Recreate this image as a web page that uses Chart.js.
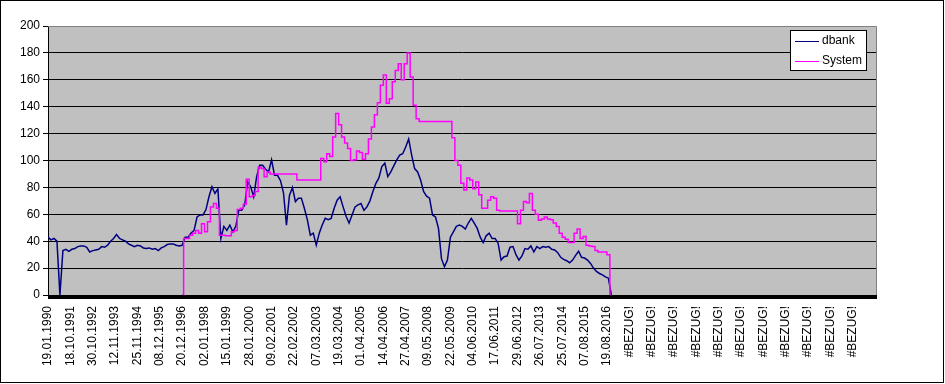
<!DOCTYPE html>
<html>
<head>
<meta charset="utf-8">
<script src="https://cdn.jsdelivr.net/npm/chart.js@4.4.0/dist/chart.umd.min.js"></script>
<style>
  html, body { margin: 0; padding: 0; background: #fff; }
  canvas { display: block; }
</style>
</head>
<body>
<canvas id="chart" width="945" height="384"></canvas>
<script>
// x axis: one label every 270 rows, 10000 rows in the sheet range
const tickLabels = [
    '19.01.1990', '18.10.1991', '30.10.1992', '12.11.1993', '25.11.1994', '08.12.1995',
    '20.12.1996', '02.01.1998', '15.01.1999', '28.01.2000', '09.02.2001', '22.02.2002',
    '07.03.2003', '19.03.2004', '01.04.2005', '14.04.2006', '27.04.2007', '09.05.2008',
    '22.05.2009', '04.06.2010', '17.06.2011', '29.06.2012', '26.07.2013', '25.07.2014',
    '07.08.2015', '19.08.2016',
    '#BEZUG!', '#BEZUG!', '#BEZUG!', '#BEZUG!', '#BEZUG!', '#BEZUG!',
    '#BEZUG!', '#BEZUG!', '#BEZUG!', '#BEZUG!', '#BEZUG!'
];
const LABEL_EVERY = 270;
const ROW_COUNT = 10000;

// both series, one value every 36 rows
const SAMPLE_STEP = 36;

const dbankValues = [
    43, 41, 42, 40, 0, 33, 34, 32.5, 34, 34.5,
    36, 36.5, 36.5, 35.5, 32, 33, 33.5, 34, 36, 35.5,
    37, 40, 42, 45, 42, 41, 40, 38, 37, 36,
    37, 36.5, 35, 34.5, 35, 34, 34.5, 33, 35, 36,
    37.5, 38, 38, 37, 36.5, 37, 43, 43, 46, 48,
    58, 59.5, 59.5, 63.5, 73, 80.5, 75.5, 79, 42, 51,
    48, 52, 47, 51, 63, 63, 67, 84, 80.5, 73,
    88, 96.5, 96.5, 93.5, 91.5, 100.5, 89, 89, 85, 76,
    52, 74, 80, 69.5, 72, 72, 64.5, 56, 44.5, 46,
    37, 46, 52, 57, 56, 57, 64.5, 70.5, 73, 65.5,
    58.5, 53.5, 59.5, 65.5, 67, 68, 63, 65.5, 70, 77,
    83, 87, 95.5, 98, 88, 91.5, 96, 100.5, 104, 105,
    110, 116, 104, 94, 91.5, 85.5, 77, 73.5, 72, 59.5,
    58, 49.5, 27, 21, 26, 43, 47, 51, 52, 51,
    49, 53.5, 57, 53.5, 49.5, 43, 39, 44, 46, 42,
    42, 38.5, 26, 28.5, 29, 35.5, 36, 30, 26, 29,
    34.5, 34, 36.5, 32, 36, 34.5, 36, 35.5, 36, 34,
    33.5, 31.5, 28, 26.5, 25.5, 24, 26, 29.5, 32.5, 28,
    27.5, 26, 23.5, 20, 17.5, 16, 15, 13.5, 12.5, 0
];

// System starts at sample 45 (Dec 1996)
const systemStart = 45;
const systemValues = [
    0, 42, 42, 44.5, 46,
    48, 46, 53, 47, 54.5, 65.5, 68, 64.5, 44.5, 44.5,
    44, 44, 47, 48, 63.5, 64.5, 67.5, 86, 73, 74,
    77, 95, 94, 88, 91.5, 90, 90, 90, 90, 90,
    90, 90, 90, 90, 85.5, 85.5, 85.5, 85.5, 85.5, 85.5,
    85.5, 85.5, 101.5, 99, 105, 103, 117.5, 135, 126.5, 117.5,
    113, 109, 100, 100.5, 107, 106, 101, 105, 116, 125,
    134, 143, 156, 163.5, 142.5, 146, 158.5, 167, 172, 160,
    172, 180, 162, 141, 131, 129, 129, 129, 129, 129,
    129, 129, 129, 129, 129, 129, 117, 100, 96.5, 83,
    78, 87, 85.5, 79, 84, 74.5, 64.5, 64.5, 70.5, 73,
    72, 63, 62.5, 62.5, 62.5, 62.5, 62.5, 62.5, 53, 63,
    69.5, 68.5, 75.5, 63, 60, 55.5, 56.5, 58, 56.5, 56,
    53.5, 51, 46, 43, 41.5, 39, 39, 46, 49, 42,
    43.5, 37, 36.5, 36, 33, 32, 32, 32, 30, 0
];

const FONT = { family: '"Liberation Sans", Arial, sans-serif', size: 12 };

// grey plot area, its frame, the thick category axis and the outer border
const plotFrame = {
    id: 'plotFrame',
    beforeDraw(chart) {
        const { ctx, chartArea: a } = chart;
        ctx.save();
        ctx.fillStyle = '#c0c0c0';
        ctx.fillRect(a.left, a.top, a.right - a.left, a.bottom - a.top);
        ctx.restore();
    },
    afterDraw(chart) {
        const { ctx, chartArea: a } = chart;
        ctx.save();
        ctx.strokeStyle = '#808080';
        ctx.lineWidth = 1;
        ctx.beginPath();
        ctx.moveTo(a.left, a.top + 0.5);
        ctx.lineTo(a.right + 0.5, a.top + 0.5);
        ctx.lineTo(a.right + 0.5, a.bottom);
        ctx.stroke();

        ctx.fillStyle = '#000';
        ctx.fillRect(a.left, a.bottom, a.right - a.left + 1, 4);

        ctx.strokeStyle = '#000';
        ctx.strokeRect(0.5, 0.5, chart.width - 2, chart.height - 2);
        ctx.restore();
    }
};

// Excel style legend box inside the plot, top right
const boxLegend = {
    id: 'boxLegend',
    afterDraw(chart) {
        const { ctx, chartArea: a } = chart;
        const x = a.right - 86, y = a.top + 4, w = 76, h = 40;
        ctx.save();
        ctx.fillStyle = '#fff';
        ctx.fillRect(x, y, w, h);
        ctx.strokeStyle = '#000';
        ctx.lineWidth = 1;
        ctx.strokeRect(x + 0.5, y + 0.5, w, h);
        ctx.font = `${FONT.size}px ${FONT.family}`;
        ctx.textBaseline = 'middle';
        chart.data.datasets.forEach((ds, k) => {
            const ly = y + 11 + k * 20;
            ctx.strokeStyle = ds.borderColor;
            ctx.beginPath();
            ctx.moveTo(x + 5, ly + 0.5);
            ctx.lineTo(x + 29, ly + 0.5);
            ctx.stroke();
            ctx.fillStyle = '#000';
            ctx.fillText(ds.label, x + 32, ly);
        });
        ctx.restore();
    }
};

new Chart(document.getElementById('chart'), {
    type: 'line',
    data: {
        datasets: [
            {
                label: 'dbank',
                data: dbankValues.map((v, i) => ({ x: i * SAMPLE_STEP, y: v })),
                borderColor: '#000080',
                borderWidth: 1.5,
                pointRadius: 0,
                tension: 0,
                order: 1
            },
            {
                label: 'System',
                data: systemValues.map((v, i) => ({ x: (systemStart + i) * SAMPLE_STEP, y: v })),
                borderColor: '#ff00ff',
                borderWidth: 1.5,
                pointRadius: 0,
                stepped: 'middle',
                order: 0
            }
        ]
    },
    options: {
        responsive: false,
        animation: false,
        devicePixelRatio: 1,
        layout: { padding: { top: 26, right: 69, left: 0, bottom: 0 } },
        plugins: {
            legend: { display: false },
            tooltip: { enabled: false }
        },
        scales: {
            x: {
                type: 'linear',
                min: 0,
                max: ROW_COUNT,
                afterBuildTicks: (scale) => {
                    scale.ticks = tickLabels.map((_, k) => ({ value: k * LABEL_EVERY }));
                },
                afterFit: (scale) => { scale.height = 89; },
                grid: { display: false, drawTicks: false },
                border: { display: false },
                ticks: {
                    autoSkip: false,
                    minRotation: 90,
                    maxRotation: 90,
                    padding: 11,
                    color: '#000',
                    font: FONT,
                    callback: (value, index) => tickLabels[index]
                }
            },
            y: {
                min: 0,
                max: 200,
                afterFit: (scale) => { scale.width = 48; },
                ticks: { stepSize: 20, padding: 3, color: '#000', font: FONT },
                grid: {
                    color: (c) => (c.tick && c.tick.value === 200 ? '#808080' : '#000'),
                    tickColor: '#000',
                    tickLength: 5
                },
                border: { color: '#000' }
            }
        }
    },
    plugins: [plotFrame, boxLegend]
});
</script>
</body>
</html>
